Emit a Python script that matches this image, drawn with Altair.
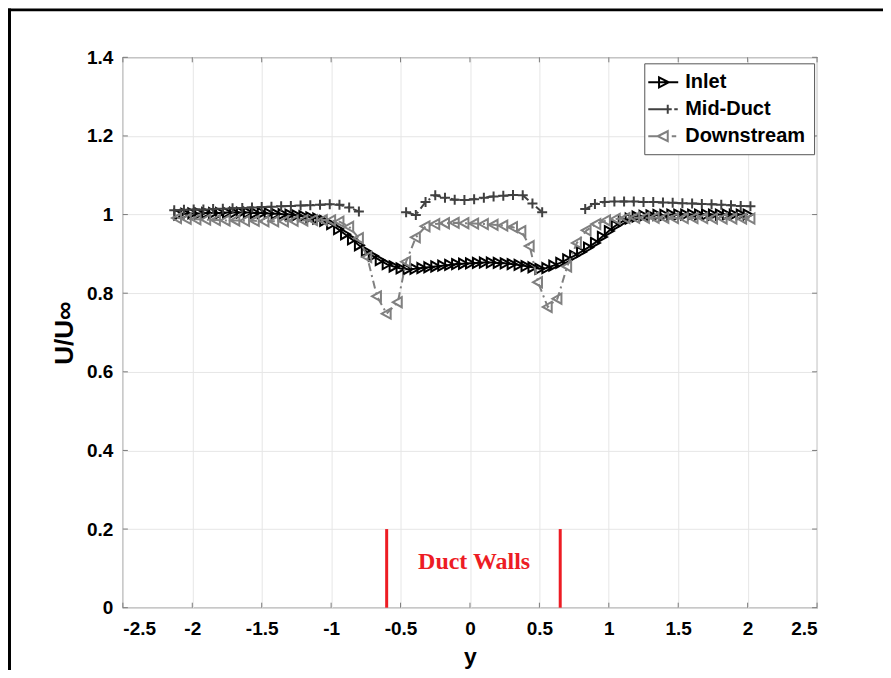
import altair as alt
import pandas as pd

# ---------------- data ----------------
series_names = ["Inlet", "Mid-Duct", "Downstream"]
series_colors = ["#000000", "#404040", "#808080"]

inlet_x = [-2.10, -2.05, -2.00, -1.95, -1.90, -1.85, -1.80, -1.75, -1.70, -1.65,
           -1.60, -1.55, -1.50, -1.45, -1.40, -1.35, -1.30, -1.25, -1.20, -1.15,
           -1.10, -1.05, -1.00, -0.95, -0.90, -0.85, -0.80, -0.75, -0.70, -0.65,
           -0.60, -0.55, -0.50, -0.45, -0.40, -0.35, -0.30, -0.25, -0.20, -0.15,
           -0.10, -0.05, 0.00, 0.05, 0.10, 0.15, 0.20, 0.25, 0.30, 0.35,
           0.40, 0.45, 0.50, 0.55, 0.60, 0.65, 0.70, 0.75, 0.80, 0.85,
           0.90, 0.95, 1.00, 1.05, 1.10, 1.15, 1.20, 1.25, 1.30, 1.35,
           1.40, 1.45, 1.50, 1.55, 1.60, 1.65, 1.70, 1.75, 1.80, 1.85,
           1.90, 1.95, 2.00]
inlet_u = [1.000, 1.002, 1.003, 1.003, 1.004, 1.004, 1.004, 1.005, 1.005, 1.005,
           1.005, 1.004, 1.004, 1.003, 1.002, 1.001, 1.000, 0.998, 0.996, 0.993,
           0.990, 0.984, 0.976, 0.963, 0.950, 0.937, 0.922, 0.907, 0.895, 0.884,
           0.874, 0.868, 0.863, 0.861, 0.862, 0.864, 0.866, 0.868, 0.870, 0.872,
           0.874, 0.875, 0.876, 0.877, 0.878, 0.878, 0.877, 0.876, 0.874, 0.872,
           0.869, 0.866, 0.862, 0.864, 0.870, 0.877, 0.886, 0.895, 0.905, 0.916,
           0.928, 0.943, 0.958, 0.972, 0.983, 0.990, 0.995, 0.997, 0.998, 0.999,
           0.999, 1.000, 1.000, 1.000, 1.000, 1.000, 1.000, 1.000, 1.000, 1.000,
           1.000, 1.000, 1.000]

mid_x = [-2.13, -2.06, -1.99, -1.92, -1.85, -1.78, -1.71, -1.64, -1.57, -1.50,
         -1.43, -1.36, -1.29, -1.22, -1.15, -1.08, -1.01, -0.94, -0.87, -0.80,
         -0.46, -0.39, -0.32, -0.25, -0.18, -0.11, -0.04, 0.03, 0.10, 0.17,
         0.24, 0.31, 0.38, 0.45, 0.52,
         0.83, 0.90, 0.97, 1.04, 1.11, 1.18, 1.25, 1.32, 1.39, 1.46,
         1.53, 1.60, 1.67, 1.74, 1.81, 1.88, 1.95, 2.02]
mid_u = [1.011, 1.012, 1.013, 1.013, 1.014, 1.015, 1.016, 1.017, 1.018, 1.019,
         1.020, 1.021, 1.022, 1.023, 1.024, 1.025, 1.026, 1.025, 1.018, 1.008,
         1.006, 0.999, 1.032, 1.049, 1.043, 1.038, 1.037, 1.039, 1.043, 1.046,
         1.048, 1.050, 1.049, 1.028, 1.006,
         1.014, 1.027, 1.032, 1.033, 1.033, 1.033, 1.032, 1.032, 1.031, 1.030,
         1.029, 1.028, 1.027, 1.026, 1.025, 1.024, 1.022, 1.021]
mid_seg = ["a"] * 20 + ["b"] * 15 + ["c"] * 18

down_x = [-2.11, -2.04, -1.97, -1.90, -1.83, -1.76, -1.69, -1.62, -1.55, -1.48,
          -1.41, -1.34, -1.27, -1.20, -1.13, -1.06, -1.00, -0.94, -0.87, -0.80,
          -0.74, -0.67, -0.60, -0.52, -0.46, -0.39, -0.32, -0.25, -0.18, -0.11,
          -0.04, 0.03, 0.10, 0.17, 0.24, 0.31, 0.37, 0.43, 0.49, 0.56,
          0.63, 0.70, 0.77, 0.84, 0.91, 0.98, 1.05, 1.12, 1.19, 1.26,
          1.33, 1.40, 1.47, 1.54, 1.61, 1.68, 1.75, 1.82, 1.89, 1.96, 2.02]
down_u = [0.991, 0.989, 0.988, 0.987, 0.986, 0.985, 0.985, 0.984, 0.984, 0.983,
          0.983, 0.983, 0.984, 0.985, 0.986, 0.986, 0.985, 0.982, 0.969, 0.940,
          0.892, 0.792, 0.748, 0.777, 0.880, 0.942, 0.970, 0.976, 0.978, 0.979,
          0.978, 0.977, 0.976, 0.974, 0.972, 0.968, 0.958, 0.920, 0.828, 0.765,
          0.786, 0.868, 0.928, 0.960, 0.976, 0.985, 0.989, 0.991, 0.992, 0.992,
          0.992, 0.992, 0.991, 0.991, 0.991, 0.991, 0.990, 0.990, 0.990, 0.990, 0.990]

x_ticks = [-2.5, -2.0, -1.5, -1.0, -0.5, 0.0, 0.5, 1.0, 1.5, 2.0, 2.5]
y_ticks = [0.0, 0.2, 0.4, 0.6, 0.8, 1.0, 1.2, 1.4]

wall_x = [-0.6, 0.65]
wall_bottom = [0.0, 0.0]
wall_top = [0.2, 0.2]
wall_label = ["Duct Walls"]
wall_label_x = [0.03]
wall_label_y = [0.117]

# ---------------- styling ----------------
W, H = 695, 551
FONT = "Liberation Sans"
AXIS_GRAY = "#7a7a7a"

tri_right = "M-0.8,-1L1,0L-0.8,1Z"
tri_left = "M0.8,-1L-1,0L0.8,1Z"
plus = "M-1,0L1,0M0,-1L0,1"
legend_paths = [
    "M-1.5,0L1.5,0M-0.42,-0.5L0.55,0L-0.42,0.5Z",
    "M-1.5,0L0.85,0M0.45,-0.45L0.45,0.45M1.1,0L1.45,0",
    "M-1.5,0L-0.55,0M-0.55,0L0.45,-0.5L0.45,0.5Z M0.85,0L1.3,0",
]

xs = alt.Scale(domain=[-2.5, 2.5], nice=False, zero=False)
ys = alt.Scale(domain=[0, 1.4], nice=False, zero=False)

x_axis = alt.Axis(
    values=x_ticks,
    labelExpr="datum.value < 0 ? '-' + format(-datum.value, '~g') : format(datum.value, '~g')",
    title="y", titleX=W / 2, titleY=56, titleBaseline="alphabetic", titleAlign="center",
    titleFontSize=23, labelPadding=12,
)
y_axis = alt.Axis(
    values=y_ticks, format="~g",
    title="U/U∞", titleAngle=270, titleX=-58, titleY=H / 2,
    titleAlign="center", titleBaseline="middle", titleFontSize=26, labelPadding=10,
)

def X(field):
    return alt.X(field, type="quantitative", scale=xs, axis=x_axis)

def Y(field):
    return alt.Y(field, type="quantitative", scale=ys, axis=y_axis)

df_in = pd.DataFrame({"x": inlet_x, "u": inlet_u})
df_mid = pd.DataFrame({"x": mid_x, "u": mid_u, "seg": mid_seg})
df_down = pd.DataFrame({"x": down_x, "u": down_u})
df_xt = pd.DataFrame({"t": x_ticks})
df_yt = pd.DataFrame({"t": y_ticks})
df_wall = pd.DataFrame({"x": wall_x, "y0": wall_bottom, "y1": wall_top})
df_lab = pd.DataFrame({"x": wall_label_x, "u": wall_label_y, "txt": wall_label})
df_leg = pd.DataFrame({"series": series_names, "x": [9.0, 9.0, 9.0], "u": [0.5, 0.5, 0.5]})
df_one = pd.DataFrame({"a": [0]})

# inward ticks (MATLAB style box)
tick_b = alt.Chart(df_xt).mark_rule(color=AXIS_GRAY, strokeWidth=1).encode(
    x=X("t"), y=alt.value(H), y2=alt.value(H - 5))
tick_t = alt.Chart(df_xt).mark_rule(color=AXIS_GRAY, strokeWidth=1).encode(
    x=X("t"), y=alt.value(0), y2=alt.value(5))
tick_l = alt.Chart(df_yt).mark_rule(color=AXIS_GRAY, strokeWidth=1).encode(
    y=Y("t"), x=alt.value(0), x2=alt.value(5))
tick_r = alt.Chart(df_yt).mark_rule(color=AXIS_GRAY, strokeWidth=1).encode(
    y=Y("t"), x=alt.value(W), x2=alt.value(W - 5))

walls = alt.Chart(df_wall).mark_rule(color="#ed1c24", strokeWidth=3).encode(
    x=X("x"), y=Y("y0"), y2="y1")
wall_text = alt.Chart(df_lab).mark_text(
    font="Liberation Serif", fontSize=24, fontWeight="bold", color="#ed1c24",
    align="center", baseline="middle").encode(x=X("x"), y=Y("u"), text="txt:N")

in_line = alt.Chart(df_in).mark_line(color="#000000", strokeWidth=2).encode(x=X("x"), y=Y("u"))
in_pts = alt.Chart(df_in).mark_point(shape=tri_right, filled=False, size=100, strokeWidth=2,
                                     color="#000000", opacity=1).encode(x=X("x"), y=Y("u"))

mid_line = alt.Chart(df_mid).mark_line(color="#404040", strokeWidth=2, strokeDash=[8, 4, 2, 4]).encode(
    x=X("x"), y=Y("u"), detail="seg:N")
mid_pts = alt.Chart(df_mid).mark_point(shape=plus, filled=False, size=100, strokeWidth=2,
                                       color="#404040", opacity=1).encode(x=X("x"), y=Y("u"))

down_line = alt.Chart(df_down).mark_line(color="#808080", strokeWidth=2, strokeDash=[8, 4, 2, 4]).encode(
    x=X("x"), y=Y("u"))
down_pts = alt.Chart(df_down).mark_point(shape=tri_left, filled=False, size=100, strokeWidth=2,
                                         color="#808080", opacity=1).encode(x=X("x"), y=Y("u"))

leg = alt.Legend(
    title=None, orient="none", legendX=522, legendY=6, padding=8,
    symbolSize=400, symbolStrokeWidth=2, labelFont=FONT, labelFontSize=20,
    labelFontWeight="bold", labelColor="#000000", labelOffset=11, rowPadding=6,
    strokeColor="#555555", fillColor="#ffffff", labelLimit=300,
)
legend_layer = alt.Chart(df_leg).mark_point(filled=False, clip=True, strokeWidth=2, opacity=1).encode(
    x=X("x"), y=Y("u"),
    color=alt.Color("series:N", scale=alt.Scale(domain=series_names, range=series_colors), legend=leg),
    shape=alt.Shape("series:N", scale=alt.Scale(domain=series_names, range=legend_paths), legend=leg),
)

frame_left = alt.Chart(df_one).mark_rule(color="#000000", strokeWidth=3).encode(
    x=alt.value(-113.5), y=alt.value(-49), y2=alt.value(H + 70))
frame_top = alt.Chart(df_one).mark_rule(color="#000000", strokeWidth=3).encode(
    y=alt.value(-47.5), x=alt.value(-115), x2=alt.value(W + 70))

chart = alt.layer(
    tick_b, tick_t, tick_l, tick_r,
    walls, wall_text,
    in_line, in_pts, mid_line, mid_pts, down_line, down_pts,
    legend_layer, frame_left, frame_top,
).properties(
    width=W, height=H,
    padding={"left": 115, "top": 49, "right": 66, "bottom": 62},
    autosize=alt.AutoSizeParams(type="none"),
).configure_view(
    stroke=AXIS_GRAY, strokeWidth=1.2
).configure_axis(
    grid=True, gridColor="#e6e6e6", gridWidth=1, domain=False, ticks=False, tickSize=0,
    labelFont=FONT, labelFontSize=19, labelFontWeight="bold", labelColor="#000000",
    titleFont=FONT, titleFontWeight="bold", titleColor="#000000",
)

chart.save("out.html", embed_options={"renderer": "svg", "actions": False})
